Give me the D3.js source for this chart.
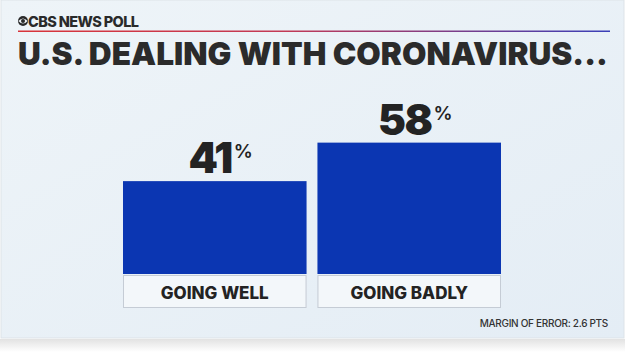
<!DOCTYPE html>
<html>
<head>
<meta charset="utf-8">
<script src="https://cdn.jsdelivr.net/npm/d3@7"></script>
<style>
  body { margin: 0; background: #ffffff; }
  svg { display: block; }
  text { font-family: Inter, "Open Sans", sans-serif; }
</style>
</head>
<body>
<script>
// poll data
var categories = ["GOING WELL", "GOING BADLY"];
var values = [41, 58];
var pollName = "CBS NEWS POLL";
var titleText = "U.S. DEALING WITH CORONAVIRUS...";
var noteText = "MARGIN OF ERROR: 2.6 PTS";

var width = 625, height = 352;
var baseline = 274;

var svg = d3.select("body").append("svg")
    .attr("width", width)
    .attr("height", height);

var defs = svg.append("defs");

var bg = defs.append("linearGradient").attr("id", "bg")
    .attr("x1", 0).attr("y1", 0).attr("x2", 1).attr("y2", 1);
bg.append("stop").attr("offset", "0%").attr("stop-color", "#eef4f8");
bg.append("stop").attr("offset", "100%").attr("stop-color", "#e4edf5");

var rule = defs.append("linearGradient").attr("id", "rule");
rule.append("stop").attr("offset", "0%").attr("stop-color", "#d8343a");
rule.append("stop").attr("offset", "45%").attr("stop-color", "#c23a55");
rule.append("stop").attr("offset", "100%").attr("stop-color", "#3a3fb8");

var shadow = defs.append("linearGradient").attr("id", "shadow")
    .attr("x1", 0).attr("y1", 0).attr("x2", 0).attr("y2", 1);
shadow.append("stop").attr("offset", "0%").attr("stop-color", "#e2e2e2");
shadow.append("stop").attr("offset", "100%").attr("stop-color", "#ffffff");

// backdrop
svg.append("rect").attr("width", width).attr("height", height).attr("fill", "#ffffff");
svg.append("rect").attr("x", 0).attr("y", 339).attr("width", width).attr("height", 13)
    .attr("fill", "url(#shadow)");
svg.append("rect").attr("x", 1).attr("y", 0).attr("width", width - 2).attr("height", 338)
    .attr("fill", "url(#bg)")
    .attr("stroke", "#dde3e8").attr("stroke-width", 1);

// header
var eye = svg.append("g").attr("transform", "translate(23,21)");
eye.append("circle").attr("r", 5).attr("fill", "#2a2a2a");
eye.append("path")
    .attr("d", "M-4.6,0 Q0,-5.2 4.6,0 Q0,5.2 -4.6,0 Z")
    .attr("fill", "#eef4f8");
eye.append("circle").attr("r", 2).attr("fill", "#2a2a2a");

svg.append("text")
    .attr("x", 28).attr("y", 26.5)
    .attr("font-size", 14.5)
    .attr("font-weight", 800)
    .attr("letter-spacing", -0.6)
    .attr("fill", "#2a2a2a")
    .text(pollName);

svg.append("rect")
    .attr("x", 18).attr("y", 30.5).attr("width", 592).attr("height", 1.5)
    .attr("fill", "url(#rule)");

var title = svg.append("text")
    .attr("x", 18).attr("y", 64.5)
    .attr("font-size", 39)
    .attr("font-weight", 900)
    .attr("fill", "#2b2b2b")
    .text(titleText);
// fit the headline into the 590px band
var tw = title.node().getComputedTextLength();
if (tw > 590) {
  title.attr("font-size", 39 * 590 / tw);
} else {
  title.attr("letter-spacing", (590 - tw) / (titleText.length - 1));
}

// scales
var x = d3.scaleBand()
    .domain(categories)
    .range([123, 501])
    .paddingInner(0.056);

var y = d3.scaleLinear()
    .domain([0, 100])
    .range([baseline, baseline - 226.5]);

var bars = svg.selectAll(".bar")
    .data(values)
    .enter().append("g")
    .attr("class", "bar");

bars.append("rect")
    .attr("x", function(d, i) { return x(categories[i]); })
    .attr("y", function(d) { return y(d); })
    .attr("width", x.bandwidth())
    .attr("height", function(d) { return y(0) - y(d); })
    .attr("fill", "#0b36b2");

// category boxes under the bars
bars.append("rect")
    .attr("x", function(d, i) { return x(categories[i]) + 0.5; })
    .attr("y", baseline + 1.5)
    .attr("width", x.bandwidth() - 1)
    .attr("height", 32)
    .attr("fill", "#f3f7fa")
    .attr("stroke", "#c5ccd5")
    .attr("stroke-width", 1);

bars.append("text")
    .attr("x", function(d, i) { return x(categories[i]) + x.bandwidth() / 2; })
    .attr("y", 298.5)
    .attr("text-anchor", "middle")
    .attr("font-size", 17)
    .attr("font-weight", 800)
    .attr("fill", "#232323")
    .text(function(d, i) { return categories[i]; });

// value labels
var lbl = bars.append("text")
    .attr("x", function(d, i) { return x(categories[i]) + x.bandwidth() / 2 + 6; })
    .attr("y", function(d) { return y(d) - 8; })
    .attr("text-anchor", "middle")
    .attr("fill", "#232323");
lbl.append("tspan")
    .attr("font-size", 42)
    .attr("font-weight", 900)
    .attr("letter-spacing", -1.5)
    .text(function(d) { return d; });
lbl.append("tspan")
    .attr("font-size", 19)
    .attr("font-weight", 600)
    .attr("dx", 2)
    .attr("dy", -15)
    .text("%");

svg.append("text")
    .attr("x", 608).attr("y", 327)
    .attr("text-anchor", "end")
    .attr("font-size", 10)
    .attr("font-weight", 500)
    .attr("letter-spacing", -0.3)
    .attr("fill", "#333333")
    .text(noteText);
</script>
</body>
</html>
